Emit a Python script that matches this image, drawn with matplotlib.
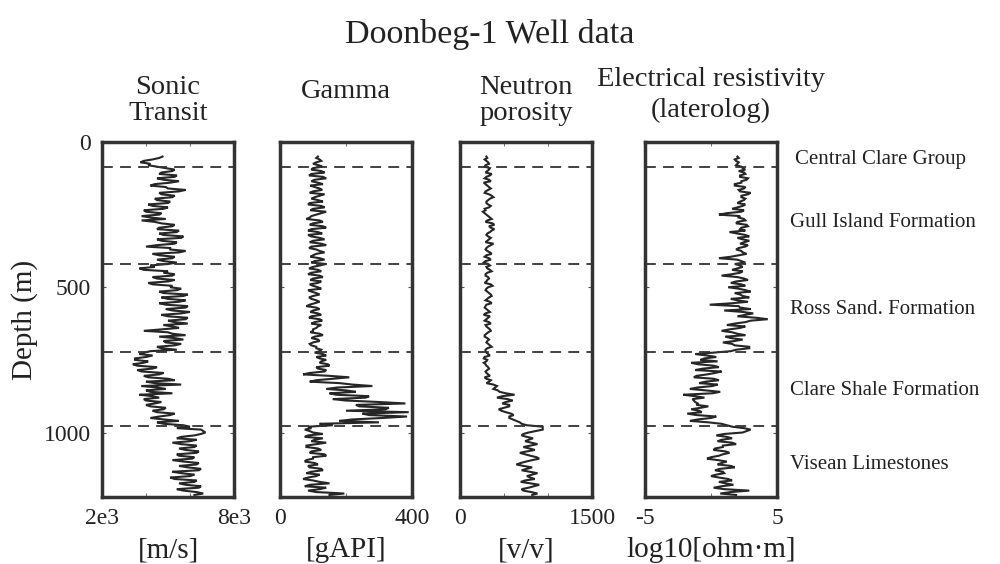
import matplotlib
matplotlib.use("Agg")
import matplotlib.pyplot as plt

plt.rcParams['font.family'] = ['Liberation Serif', 'DejaVu Serif']

depth = list(range(50, 1220, 5))

sonic = [4750, 4600, 4300, 3900, 3750, 4200, 4100, 4500, 4900, 5300,
         5200, 4700, 4600, 5400, 5300, 4500, 4800, 5500, 5100, 4400,
         4200, 4900, 5000, 5800, 5500, 4600, 4700, 5300, 5200, 4400,
         4500, 5100, 5000, 4100, 4300, 5000, 4800, 3900, 4000, 4700,
         4600, 3800, 4200, 4900, 3800, 4400, 4700, 5300, 5200, 4600,
         4500, 5500, 5400, 4600, 4800, 5700, 5600, 4500, 4700, 5400,
         5300, 4500, 4000, 5100, 5100, 5800, 5500, 4300, 4600, 5300,
         5200, 4500, 4800, 5400, 5000, 4200, 4400, 3700, 3900, 5000,
         4800, 5300, 5200, 4300, 4500, 5300, 5000, 4100, 4300, 5200,
         5100, 5600, 5400, 4600, 4800, 5900, 5700, 4700, 5000, 5800,
         5500, 4600, 4900, 5900, 5800, 4900, 5200, 6000, 5600, 4700,
         5000, 5900, 5800, 5000, 5300, 5900, 4800, 5200, 5500, 4700,
         3900, 5000, 5200, 5800, 4600, 5300, 5700, 4800, 4900, 5600,
         5300, 4500, 4700, 5400, 4200, 3900, 3700, 4300, 4000, 3500,
         3500, 4100, 3900, 3400, 3600, 4500, 4300, 3600, 3800, 4800,
         4600, 3900, 4100, 5000, 5300, 4000, 4400, 5600, 3800, 4500,
         4900, 4000, 4200, 5200, 3700, 4300, 4600, 3900, 4000, 4700,
         4400, 4000, 4200, 4900, 4800, 4300, 4500, 5300, 5100, 4600,
         4200, 4800, 5500, 4500, 4800, 5700, 6000, 5400, 6500, 6600,
         6700, 6500, 6200, 5600, 5400, 6300, 6000, 5200, 5600, 6300,
         6200, 5500, 5800, 6400, 6300, 5400, 5500, 6200, 6100, 5200,
         5700, 6400, 6300, 5500, 5900, 6500, 6400, 5200, 5600, 6200,
         6000, 5100, 5300, 6300, 6200, 5500, 5800, 6500, 6400, 5400,
         5700, 6300, 6600, 6200]

gamma = [115, 110, 120, 125, 110, 100, 118, 128, 100, 95,
         125, 135, 95, 88, 130, 140, 105, 95, 115, 130,
         92, 105, 120, 128, 100, 90, 135, 120, 105, 95,
         115, 130, 90, 85, 125, 135, 100, 92, 140, 125,
         110, 95, 90, 80, 120, 130, 100, 90, 130, 140,
         95, 85, 115, 128, 85, 95, 120, 135, 100, 90,
         125, 140, 95, 88, 110, 120, 135, 110, 100, 92,
         120, 135, 105, 95, 140, 120, 100, 88, 115, 125,
         95, 85, 120, 130, 100, 92, 125, 115, 90, 100,
         115, 125, 85, 95, 110, 120, 100, 88, 95, 110,
         120, 105, 90, 80, 110, 120, 100, 92, 115, 125,
         95, 88, 120, 128, 105, 95, 125, 115, 110, 100,
         100, 92, 120, 130, 105, 95, 115, 120, 100, 90,
         95, 110, 110, 125, 120, 105, 130, 140, 110, 120,
         140, 125, 120, 145, 150, 110, 115, 140, 135, 90,
         70, 150, 210, 160, 110, 90, 180, 220, 280, 175,
         140, 200, 230, 150, 170, 270, 260, 160, 200, 300,
         380, 230, 240, 330, 320, 200, 390, 250, 270, 385,
         310, 220, 180, 300, 120, 160, 85, 95, 75, 90,
         100, 130, 85, 75, 130, 105, 95, 140, 110, 80,
         80, 115, 125, 95, 90, 135, 140, 100, 100, 80,
         75, 105, 115, 85, 90, 125, 130, 95, 80, 120,
         110, 85, 70, 100, 120, 150, 90, 75, 140, 120,
         85, 110, 195, 150]

neutron = [300, 310, 280, 300, 320, 330, 290, 280, 340, 330,
           310, 290, 360, 340, 300, 280, 330, 350, 270, 290,
           310, 330, 350, 320, 290, 280, 330, 360, 380, 340,
           320, 300, 300, 320, 350, 330, 280, 290, 260, 280,
           300, 320, 340, 360, 310, 290, 370, 390, 330, 350,
           390, 360, 340, 310, 300, 320, 350, 330, 310, 290,
           380, 350, 320, 300, 290, 310, 340, 360, 300, 280,
           330, 350, 290, 270, 320, 340, 300, 310, 340, 360,
           310, 290, 290, 320, 330, 310, 300, 280, 350, 370,
           320, 300, 290, 310, 330, 350, 360, 330, 310, 290,
           340, 360, 300, 290, 280, 300, 320, 340, 290, 270,
           340, 320, 300, 280, 330, 350, 290, 300, 320, 340,
           350, 320, 300, 280, 280, 310, 330, 310, 300, 320,
           340, 360, 310, 290, 290, 300, 320, 340, 280, 270,
           310, 300, 270, 290, 300, 320, 330, 310, 290, 300,
           320, 340, 280, 300, 350, 330, 300, 380, 420, 400,
           380, 430, 450, 520, 620, 480, 420, 540, 600, 520,
           480, 560, 560, 500, 440, 470, 520, 580, 610, 560,
           560, 600, 640, 680, 700, 760, 940, 940, 940, 860,
           780, 720, 700, 760, 830, 780, 740, 810, 880, 800,
           720, 790, 850, 760, 680, 740, 800, 870, 900, 820,
           750, 690, 640, 720, 820, 760, 700, 790, 880, 820,
           760, 800, 850, 740, 690, 800, 900, 840, 780, 700,
           720, 810, 880, 820]

resist = [2.0, 2.1, 1.8, 1.9, 2.1, 2.0, 1.9, 2.3, 2.4, 2.6,
          2.1, 2.5, 2.6, 2.2, 2.2, 2.8, 2.7, 2.3, 2.3, 1.8,
          1.8, 2.6, 2.5, 2.1, 2.2, 3.0, 2.8, 2.3, 2.3, 2.6,
          2.5, 2.2, 2.0, 2.6, 2.4, 2.0, 1.6, 2.5, 2.3, 1.2,
          0.6, 2.2, 2.1, 2.5, 2.6, 2.0, 1.9, 2.7, 2.8, 2.3,
          2.2, 2.6, 1.4, 2.0, 2.6, 2.9, 2.0, 2.4, 2.9, 2.5,
          2.2, 2.8, 2.6, 2.1, 1.9, 2.3, 2.4, 2.7, 2.1, 1.5,
          0.6, 2.0, 2.3, 2.6, 1.8, 2.2, 2.4, 2.0, 1.6, 2.4,
          2.2, 1.6, 0.8, 2.0, 2.5, 2.8, 1.9, 1.5, 2.3, 2.6,
          1.3, 2.1, 2.6, 3.0, 1.8, 2.2, 2.4, 2.9, 1.5, 2.0,
          2.8, 1.6, -0.1, 2.1, 2.2, 3.0, 1.0, 2.4, 3.2, 2.6,
          2.0, 3.4, 4.3, 3.0, 2.6, 1.8, 1.2, 2.6, 2.2, 1.4,
          0.8, 1.6, 2.0, 2.6, 1.1, 1.5, 2.4, 1.8, 0.9, 1.6,
          1.8, 2.9, 2.9, 1.9, 1.5, 0.2, -1.2, -0.3, 0.4, -0.5,
          -0.8, 0.5, -1.5, -1.0, 0.2, 0.6, -0.6, -1.2, 0.8, 0.3,
          -0.3, -1.1, -1.3, 0.2, 0.6, -0.4, -0.9, 0.5, 0.1, -1.0,
          -1.6, -0.4, 0.7, 0.1, -2.1, -1.2, -0.5, -1.4, -1.3, -1.2,
          -1.0, -1.1, -0.2, -0.8, -1.5, -0.9, -0.7, -1.8, -1.1, 0.4,
          0.0, -1.0, -1.6, -0.2, 0.8, 1.2, 1.6, 2.5, 3.0, 2.7,
          2.4, 1.0, 0.4, 1.2, 1.6, 0.8, 0.5, 1.6, 1.9, 0.9,
          0.9, 0.3, 0.2, 1.1, 1.4, 0.9, 0.6, 0.0, -0.3, 0.5,
          1.2, 0.8, 0.5, 1.5, 1.8, 0.7, 0.3, 0.9, 1.0, 0.4,
          0.0, 0.6, 1.3, 1.6, 0.6, 1.1, 1.7, 0.8, 0.2, 1.0,
          2.9, 1.5, 0.7, 1.9]

boundaries = [86, 421, 722, 979]
formations = ["Central Clare Group", "Gull Island Formation",
              "Ross Sand. Formation", "Clare Shale Formation",
              "Visean Limestones"]
formation_depths = [60, 277, 577, 855, 1110]

titles = [["Sonic", "Transit"], ["Gamma"], ["Neutron", "porosity"],
          ["Electrical resistivity", "(laterolog)"]]
units = ["[m/s]", "[gAPI]", "[v/v]", "log10[ohm\u00b7m]"]
xlims = [(2000, 8000), (0, 400), (0, 1500), (-5, 5)]
xticklabels = [["2e3", "8e3"], ["0", "400"], ["0", "1500"], ["-5", "5"]]
minor_x = [[4000, 6000], [200], [500, 1000], [0]]
series = [sonic, gamma, neutron, resist]
depth_ticks = [0, 500, 1000]
ymax = 1222

W, H = 1000, 564
fig = plt.figure(figsize=(W / 100, H / 100), dpi=100)
fig.patch.set_facecolor('white')
tc = '#222222'

lefts = [102, 280, 460, 645]
width = 132
top, bottom = 142, 497

for i in range(4):
    ax = fig.add_axes([lefts[i] / W, 1 - bottom / H, width / W, (bottom - top) / H])
    ax.plot(series[i], depth, color='#262626', lw=1.5, solid_joinstyle='miter')
    for b in boundaries:
        ax.axhline(b, color='#333333', lw=1.3, dashes=(6, 4))
    ax.set_xlim(*xlims[i])
    ax.set_ylim(ymax, 0)
    ax.set_xticks(list(xlims[i]))
    ax.set_xticklabels(xticklabels[i], fontsize=17, color=tc)
    ax.set_xticks(minor_x[i], minor=True)
    ax.set_yticks(depth_ticks)
    if i == 0:
        ax.set_yticklabels([str(d) for d in depth_ticks], fontsize=17, color=tc)
        ax.set_ylabel("Depth (m)", fontsize=21, color=tc, labelpad=4)
    else:
        ax.set_yticklabels([])
    ax.tick_params(axis='both', which='both', direction='in', length=3,
                   top=True, right=True, color='#555555', pad=8)
    ax.tick_params(axis='x', which='major', length=0)
    for s in ax.spines.values():
        s.set_linewidth(2.5)
        s.set_color('#333333')
    cx = (lefts[i] + width / 2) / W
    ys = [88, 113] if len(titles[i]) == 2 else [92]
    if i == 3:
        ys = [80, 110]
    for t, y in zip(titles[i], ys):
        fig.text(cx, 1 - y / H, t, fontsize=20.5, color=tc, ha='center', va='center')
    fig.text(cx, 1 - 550 / H, units[i], fontsize=21, color=tc, ha='center', va='center')

# formation labels
for name, d in zip(formations, formation_depths):
    y = top + d / ymax * (bottom - top)
    x = 795 if name == "Central Clare Group" else 790
    fig.text(x / W, 1 - y / H, name, fontsize=15, color=tc, ha='left', va='center')

fig.text(0.49, 1 - 35 / H, "Doonbeg-1 Well data", fontsize=24.5, color=tc,
         ha='center', va='center')

fig.savefig("out.png", dpi=100, facecolor='white')
